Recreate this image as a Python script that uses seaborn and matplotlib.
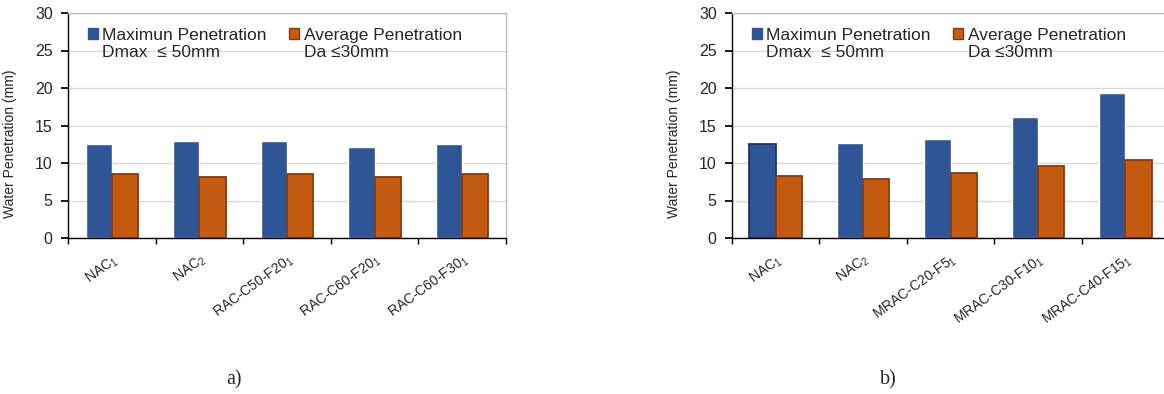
import numpy as np
import pandas as pd
import matplotlib
matplotlib.use("Agg")
import matplotlib.pyplot as plt
import seaborn as sns
from matplotlib.patches import Rectangle
from matplotlib.legend_handler import HandlerPatch

# data
mixes_a = ["NAC$_1$", "NAC$_2$", "RAC-C50-F20$_1$", "RAC-C60-F20$_1$", "RAC-C60-F30$_1$"]
max_a = [12.5, 12.9, 12.9, 12.1, 12.5]
avg_a = [8.5, 8.1, 8.6, 8.1, 8.5]

mixes_b = ["NAC$_1$", "NAC$_2$", "MRAC-C20-F5$_1$", "MRAC-C30-F10$_1$", "MRAC-C40-F15$_1$"]
max_b = [12.5, 12.7, 13.2, 16.1, 19.3]
avg_b = [8.3, 7.9, 8.7, 9.6, 10.4]

series = ["Maximun Penetration\nDmax  ≤ 50mm", "Average Penetration\nDa ≤30mm"]
yticks = [0, 5, 10, 15, 20, 25, 30]

BLUE = "#2F5597"
ORANGE = "#C55A11"
ORANGE_EDGE = "#843C0C"

sns.set_theme(style="white")
plt.rcParams["font.family"] = ["Liberation Sans", "DejaVu Sans"]
plt.rcParams["mathtext.fontset"] = "custom"
plt.rcParams["mathtext.rm"] = "Liberation Sans"
plt.rcParams["mathtext.it"] = "Liberation Sans:italic"
plt.rcParams["mathtext.default"] = "regular"


class TopSquare(HandlerPatch):
    # put the legend square next to the first line of a two-line label
    def create_artists(self, legend, orig_handle, xdescent, ydescent,
                       width, height, fontsize, trans):
        p = Rectangle((-xdescent, -ydescent + 0.6 * fontsize), width, height,
                      facecolor=orig_handle.get_facecolor(),
                      edgecolor=orig_handle.get_edgecolor(),
                      lw=orig_handle.get_linewidth(), transform=trans)
        return [p]


def panel(ax, mixes, max_vals, avg_vals):
    df = pd.DataFrame({
        "mix": mixes * 2,
        "value": max_vals + avg_vals,
        "series": [series[0]] * len(mixes) + [series[1]] * len(mixes),
    })
    sns.barplot(data=df, x="mix", y="value", hue="series", order=mixes,
                hue_order=series, palette=[BLUE, ORANGE], width=0.6,
                saturation=1, ax=ax, legend=False, errorbar=None)
    for bar in ax.containers[1]:
        bar.set_edgecolor(ORANGE_EDGE)
        bar.set_linewidth(1.3)

    ax.set_xlim(-0.5, len(mixes) - 0.5)
    ax.set_ylim(0, 30)
    ax.set_yticks(yticks)
    ax.set_axisbelow(True)
    ax.yaxis.grid(True, color="#D9D9D9", lw=1)
    ax.xaxis.grid(False)

    for s in ["left", "bottom"]:
        ax.spines[s].set_color("black")
        ax.spines[s].set_linewidth(1)
    for s in ["top", "right"]:
        ax.spines[s].set_color("#BFBFBF")
        ax.spines[s].set_linewidth(1)

    ax.set_xticks(range(len(mixes)))
    ax.set_xticklabels(mixes, rotation=36, ha="right", rotation_mode="anchor",
                       fontsize=10)
    ax.set_xticks(np.arange(-0.5, len(mixes)), minor=True)
    ax.tick_params(axis="x", which="major", length=0, pad=10)
    ax.tick_params(axis="x", which="minor", length=4, color="black",
                   direction="out", bottom=True)
    ax.tick_params(axis="y", length=5, color="black", direction="out",
                   left=True, labelsize=11.5, pad=6)

    ax.set_xlabel("")
    ax.set_ylabel("Water Penetration (mm)", fontsize=10)
    ax.yaxis.set_label_coords(-0.116, 0.42)

    handles = [Rectangle((0, 0), 1, 1, facecolor=BLUE, edgecolor=BLUE),
               Rectangle((0, 0), 1, 1, facecolor=ORANGE, edgecolor=ORANGE_EDGE, lw=1)]
    ax.legend(handles, series, ncol=2, frameon=False, fontsize=12.5,
              handlelength=0.58, handleheight=0.58, handletextpad=0.25,
              columnspacing=1.3, loc="upper left", bbox_to_anchor=(0.045, 0.935),
              borderaxespad=0, borderpad=0,
              handler_map={Rectangle: TopSquare()})


fig = plt.figure(figsize=(11.64, 3.94), dpi=100)
W, H = 1164, 394
ax1 = fig.add_axes([68 / W, 156 / H, 438 / W, 225 / H])
ax2 = fig.add_axes([732 / W, 156 / H, 437 / W, 225 / H])

panel(ax1, mixes_a, max_a, avg_a)
panel(ax2, mixes_b, max_b, avg_b)

# first bar of panel b has a darker outline in the original
ax2.containers[0][0].set_edgecolor("#1F3864")
ax2.containers[0][0].set_linewidth(1.3)

fig.text(234 / W, 1 - 380 / H, "a)", ha="center", va="center",
         family="Liberation Serif", fontsize=14.5)
fig.text(888 / W, 1 - 380 / H, "b)", ha="center", va="center",
         family="Liberation Serif", fontsize=14.5)

fig.savefig("out.png", dpi=100, facecolor="white")
